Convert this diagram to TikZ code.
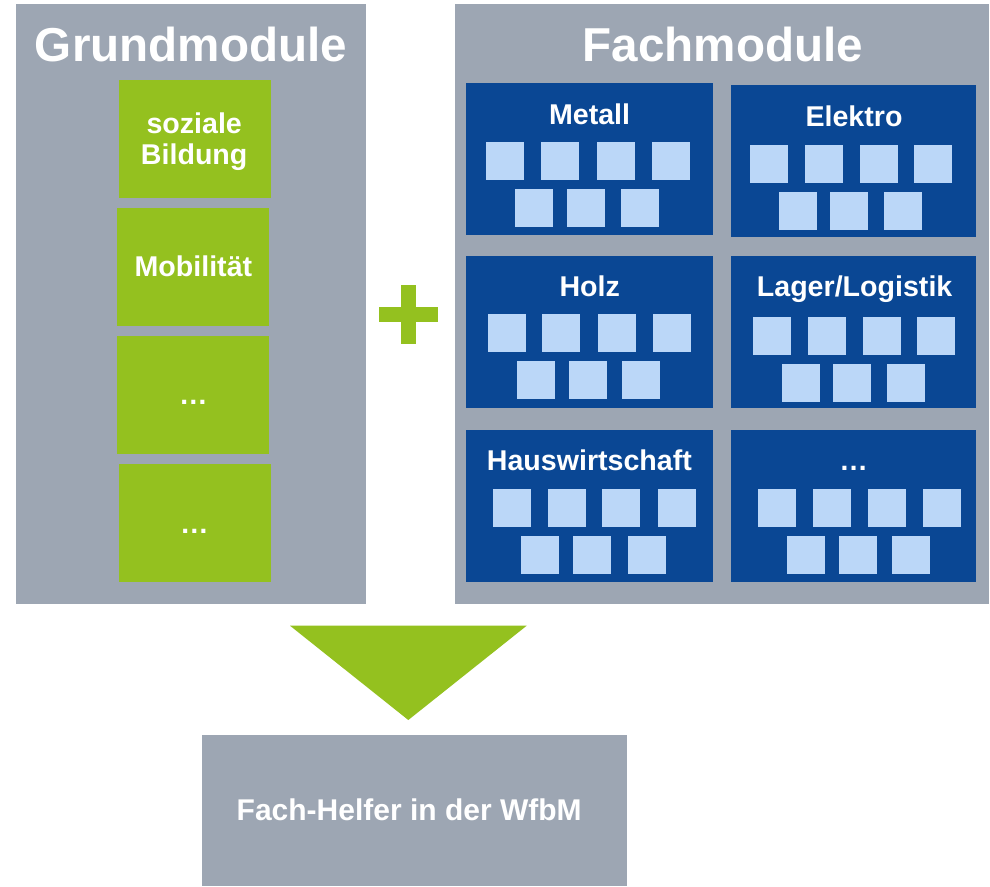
\documentclass[tikz,border=0pt]{standalone}
\usepackage{fontspec}
\setmainfont{Liberation Sans}
\definecolor{panelgrey}{RGB}{157,166,179}
\definecolor{modgreen}{RGB}{148,193,31}
\definecolor{modblue}{RGB}{10,71,148}
\definecolor{sqblue}{RGB}{187,215,248}
\begin{document}
\begin{tikzpicture}[x=1pt,y=-1pt,
  panel/.style={fill=panelgrey,draw=none,inner sep=0pt},
  gbox/.style={fill=modgreen,draw=none,inner sep=0pt,minimum width=152pt,minimum height=117.7pt},
  bbox/.style={fill=modblue,draw=none,inner sep=0pt,minimum height=151.7pt},
  sq/.style={fill=sqblue,draw=none,inner sep=0pt,minimum width=38pt,minimum height=38pt,anchor=north west},
  bar/.style={fill=modgreen,draw=none,inner sep=0pt},
  title/.style={text=white,inner sep=0pt,anchor=base,font=\fontsize{47.6}{57}\selectfont\bfseries},
  lab/.style={text=white,inner sep=0pt,anchor=base,font=\fontsize{28.6}{30.7}\selectfont\bfseries},
  res/.style={text=white,inner sep=0pt,anchor=base,font=\fontsize{30}{36}\selectfont\bfseries}]
\useasboundingbox (0,0) rectangle (990,886);
\fill[white] (0,0) rectangle (990,886);
% panels
\node[panel,minimum width=350pt,minimum height=600pt] (left) at (191,304) {};
\node[panel,minimum width=534pt,minimum height=600pt] (right) at (722,304) {};
\node[title] (tgrund) at (191,61.7) {Grundmodule};
\node[title] (tfach) at (722.9,61.7) {Fachmodule};
% green modules
\node[gbox] (g1) at (195.3,138.85) {};
\node[gbox,minimum width=151.7pt] (g2) at (193.15,266.85) {};
\node[gbox,minimum width=151.7pt,minimum height=118pt] (g3) at (193.15,394.7) {};
\node[gbox] (g4) at (195.3,522.85) {};
\node[lab,align=center] (tg1) at (194.2,164) {soziale\\Bildung};
\node[lab] (tg2) at (193.4,276.7) {Mobilität};
\node[lab] (tg3) at (193.3,404.9) {…};
\node[lab] (tg4) at (194.5,533) {…};
% plus sign
\node[bar,minimum width=14.7pt,minimum height=59pt] (plusv) at (408.35,314.5) {};
\node[bar,minimum width=59pt,minimum height=15.3pt] (plush) at (408.5,314.65) {};
% blue modules
\node[bbox,minimum width=246.7pt] (metall) at (589.25,158.85) {};
\node[bbox,minimum width=245.5pt,minimum height=152pt] (elektro) at (853.25,161) {};
\node[bbox,minimum width=246.7pt] (holz) at (589.25,331.85) {};
\node[bbox,minimum width=245.5pt] (lager) at (853.25,331.85) {};
\node[bbox,minimum width=246.7pt] (haus) at (589.25,505.85) {};
\node[bbox,minimum width=245.5pt] (more) at (853.25,505.85) {};
\node[lab] (tmetall) at (589.6,124) {Metall};
\node[lab] (telektro) at (854,126) {Elektro};
\node[lab] (tholz) at (589.7,296.7) {Holz};
\node[lab] (tlager) at (854.6,296.7) {Lager/Logistik};
\node[lab] (thaus) at (589.4,470.7) {Hauswirtschaft};
\node[lab] (tmore) at (853.7,470.7) {…};
% squares
\foreach \n/\ya/\yb/\a/\b/\c/\d/\e/\f/\g in {
  m/142/189/486.2/541.1/596.3/651.5/515.2/566.3/620.5,
  e/145/192/749.5/804.7/860/913.8/778.5/829.9/883.8,
  h/314/361/488/542.1/597.3/652.6/516.3/568.4/622.2,
  l/317/364/752.6/807.8/862.7/916.9/781.6/832.7/886.9,
  w/489/536/493.1/547.3/602.2/657.4/521.1/573.2/627.4,
  x/489/536/757.5/812.7/867.9/923.1/786.8/838.9/892}{
  \node[sq] (\n1) at (\a,\ya) {};
  \node[sq] (\n2) at (\b,\ya) {};
  \node[sq] (\n3) at (\c,\ya) {};
  \node[sq] (\n4) at (\d,\ya) {};
  \node[sq] (\n5) at (\e,\yb) {};
  \node[sq] (\n6) at (\f,\yb) {};
  \node[sq] (\n7) at (\g,\yb) {};
}
% triangle
\coordinate (tl) at (290,625.7);
\coordinate (tr) at (526.7,625.7);
\coordinate (tip) at (408.3,720);
\fill[modgreen] (tl) -- (tr) -- (tip) -- cycle;
% result
\node[panel,minimum width=425pt,minimum height=151pt] (result) at (414.5,810.5) {};
\node[res] (tresult) at (409.2,820.7) {Fach-Helfer in der WfbM};
\end{tikzpicture}
\end{document}
